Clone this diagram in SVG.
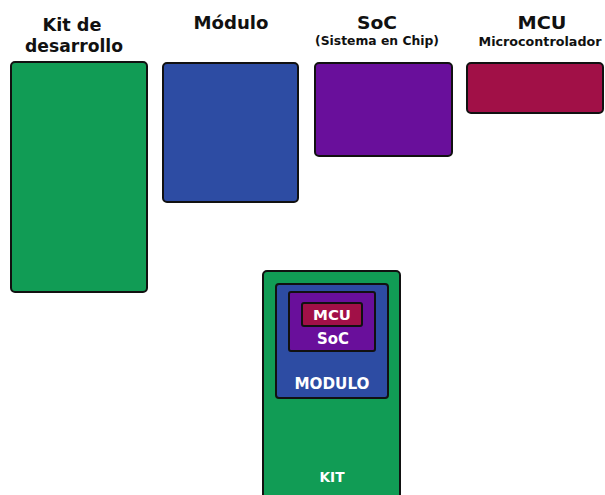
<svg xmlns="http://www.w3.org/2000/svg" width="605" height="495" viewBox="0 0 605 495">
<style>
.box{stroke:#111;stroke-width:2}
.kit{fill:#119c55}
.mod{fill:#2d4ca3}
.soc{fill:#690f9b}
.mcu{fill:#a11047}
.t{font-family:"DejaVu Sans",sans-serif;font-weight:bold;text-anchor:middle;fill:#111}
.w{font-family:"DejaVu Sans",sans-serif;font-weight:bold;text-anchor:middle;fill:#fff}
</style>
<rect width="605" height="495" fill="#fff"/>
<g id="kit-title">
<text class="t" x="72" y="31" font-size="18" textLength="59" lengthAdjust="spacingAndGlyphs">Kit de</text>
<text class="t" x="74" y="52" font-size="18" textLength="98" lengthAdjust="spacingAndGlyphs">desarrollo</text>
<rect class="box kit" x="11" y="62" width="136" height="230" rx="4"/>
</g>
<g id="modulo-title">
<text class="t" x="231" y="29" font-size="18" textLength="75" lengthAdjust="spacingAndGlyphs">Módulo</text>
<rect class="box mod" x="163" y="63" width="135" height="139" rx="4"/>
</g>
<g id="soc-title">
<text class="t" x="377" y="29" font-size="18" textLength="40" lengthAdjust="spacingAndGlyphs">SoC</text>
<text class="t" x="377" y="45" font-size="12" textLength="124" lengthAdjust="spacingAndGlyphs">(Sistema en Chip)</text>
<rect class="box soc" x="315" y="63" width="137" height="93" rx="4"/>
</g>
<g id="mcu-title">
<text class="t" x="542" y="29" font-size="18" textLength="49" lengthAdjust="spacingAndGlyphs">MCU</text>
<text class="t" x="540" y="46" font-size="12.5" textLength="123" lengthAdjust="spacingAndGlyphs">Microcontrolador</text>
<rect class="box mcu" x="467" y="63" width="136" height="50" rx="4"/>
</g>
<g id="connectors"></g>
<g id="nested-kit">
<rect class="box kit" x="263" y="271" width="137" height="240" rx="4"/>
<text class="w" x="332" y="482" font-size="14" textLength="25" lengthAdjust="spacingAndGlyphs">KIT</text>
</g>
<g id="nested-modulo">
<rect class="box mod" x="276" y="284" width="112" height="114" rx="3"/>
<text class="w" x="332" y="389" font-size="15" textLength="75" lengthAdjust="spacingAndGlyphs">MODULO</text>
</g>
<g id="nested-soc">
<rect class="box soc" x="289" y="292" width="86" height="59" rx="2"/>
<text class="w" x="333" y="344" font-size="15" textLength="32" lengthAdjust="spacingAndGlyphs">SoC</text>
</g>
<g id="nested-mcu">
<rect class="box mcu" x="302" y="303" width="60" height="23" rx="2"/>
<text class="w" x="332" y="320" font-size="14.5" textLength="38" lengthAdjust="spacingAndGlyphs">MCU</text>
</g>
</svg>
